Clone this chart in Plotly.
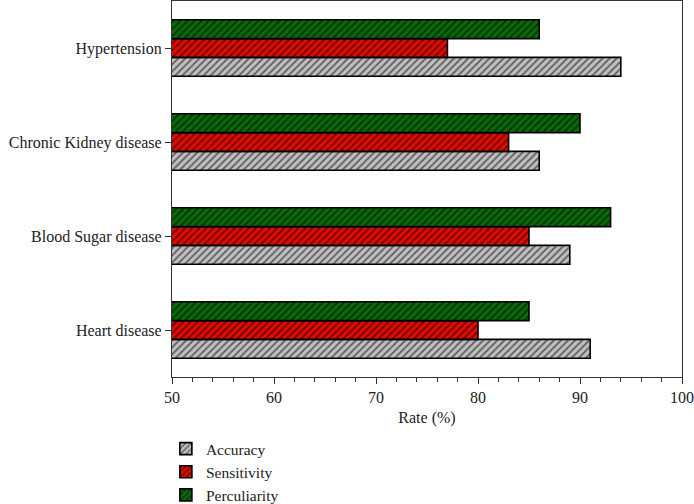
import plotly.graph_objects as go

categories = ["Heart disease", "Blood Sugar disease", "Chronic Kidney disease", "Hypertension"]
accuracy = [91, 89, 86, 94]
sensitivity = [80, 85, 83, 77]
perculiarity = [85, 93, 90, 86]

series = [
    ("Accuracy", accuracy, "#c0c0c0"),
    ("Sensitivity", sensitivity, "#e00c00"),
    ("Perculiarity", perculiarity, "#0a6a0a"),
]

FONT = "Liberation Serif"
FS = 16

fig = go.Figure()
for name, vals, color in series:
    fig.add_trace(go.Bar(
        y=categories, x=vals, name=name, orientation="h",
        base=0,
        marker=dict(
            color=color,
            line=dict(color="black", width=1.6),
            pattern=dict(shape="/", fgcolor="black", bgcolor=color, size=5, solidity=0.35),
        ),
    ))

fig.update_layout(
    width=694, height=504,
    margin=dict(l=172, r=12, t=1, b=127, autoexpand=False),
    barmode="group", bargap=0.4, bargroupgap=0,
    plot_bgcolor="white", paper_bgcolor="white",
    font=dict(family=FONT, size=FS, color="#222"),
    showlegend=True,
    legend=dict(
        orientation="v", x=-0.012, xanchor="left",
        y=-0.2527, yanchor="middle",
        traceorder="normal", font=dict(family=FONT, size=15.5, color="#222"),
        itemwidth=30, tracegroupgap=0, bgcolor="rgba(0,0,0,0)",
    ),
    xaxis=dict(
        range=[50, 100], dtick=10, tick0=50,
        ticks="outside", ticklen=6, tickwidth=1, tickcolor="#333",
        minor=dict(dtick=2, ticks="outside", ticklen=4, tickcolor="#333"),
        showline=True, linecolor="#333", linewidth=1.2, mirror=True,
        showgrid=False, zeroline=False,
        title=dict(text="Rate (%)", font=dict(family=FONT, size=FS), standoff=6),
        tickfont=dict(family=FONT, size=FS),
    ),
    yaxis=dict(
        ticks="outside", ticklen=6, tickcolor="#333",
        showline=True, linecolor="#333", linewidth=1.2, mirror=True,
        showgrid=False, zeroline=False,
        tickfont=dict(family=FONT, size=FS),
        categoryorder="array", categoryarray=categories,
    ),
)

fig.write_html(
    "out.html",
    config={"displayModeBar": False},
    post_script="document.body.style.margin='0';document.body.style.overflow='hidden';",
)
